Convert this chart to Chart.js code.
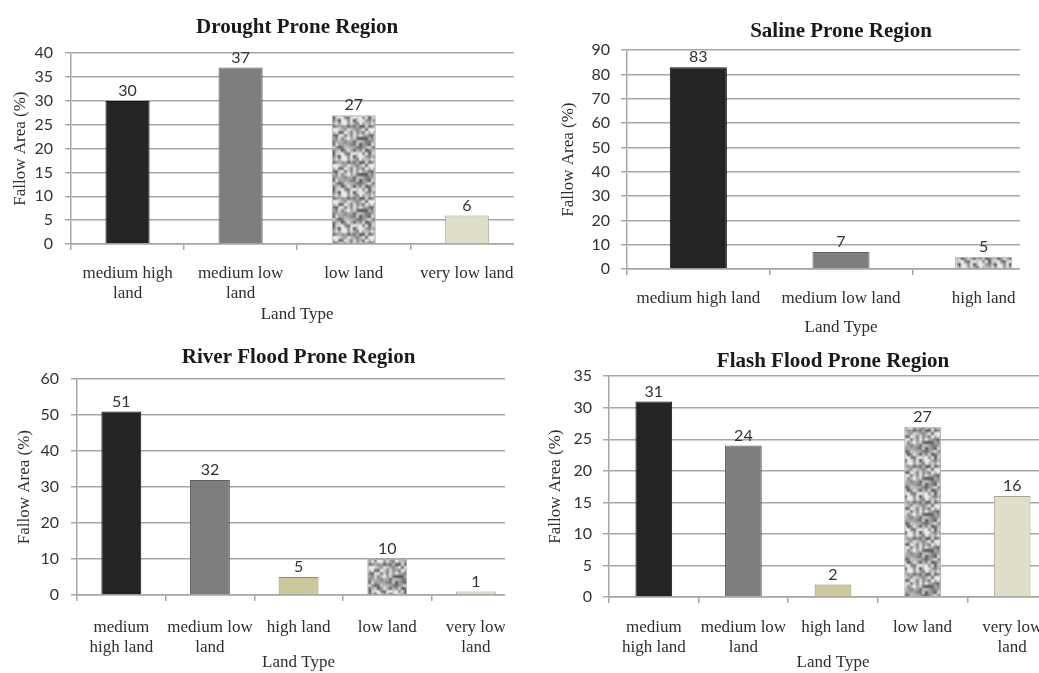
<!DOCTYPE html>
<html>
<head>
<meta charset="utf-8">
<script src="https://cdn.jsdelivr.net/npm/chart.js@4.4.1/dist/chart.umd.min.js"></script>
<style>
  html, body { margin: 0; padding: 0; background: #fff; width: 1039px; height: 673px; overflow: hidden; position: relative; }
  .box { position: absolute; overflow: hidden; }
  .box canvas { position: absolute; left: 0; top: 0; }
</style>
</head>
<body>
<div class="box" id="box1"><canvas id="drought"></canvas></div>
<div class="box" id="box2"><canvas id="saline"></canvas></div>
<div class="box" id="box3"><canvas id="river"></canvas></div>
<div class="box" id="box4"><canvas id="flash"></canvas></div>
<script>
// data
const droughtLabels = [['medium high', 'land'], ['medium low', 'land'], 'low land', 'very low land'];
const droughtValues = [30, 37, 27, 6];

const salineLabels = ['medium high land', 'medium low land', 'high land'];
const salineValues = [83, 7, 5];

const riverLabels = [['medium', 'high land'], ['medium low', 'land'], 'high land', 'low land', ['very low', 'land']];
const riverValues = [51, 32, 5, 10, 1];

const flashLabels = [['medium', 'high land'], ['medium low', 'land'], 'high land', 'low land', ['very low', 'land']];
const flashValues = [31, 24, 2, 27, 16];

const yMaxes = [40, 90, 60, 35];
const ySteps = [5, 10, 10, 5];

const serif = "'Liberation Serif', 'Times New Roman', serif";
const sans = "Lato, 'Liberation Sans', sans-serif";
const gridColor = '#a6a6a6';

// mottled grey fill for the "low land" style bars (tileable value noise)
function makeSpeckle() {
  const size = 36, cell = 3, n = size / cell;
  let s = 11;
  const next = () => (s = (s * 16807) % 2147483647) / 2147483647;
  const lattice = [];
  for (let i = 0; i < n * n; i++) lattice.push(next());
  const at = (i, j) => lattice[((j + n) % n) * n + ((i + n) % n)];
  const c = document.createElement('canvas');
  c.width = size; c.height = size;
  const g = c.getContext('2d');
  const img = g.createImageData(size, size);
  for (let y = 0; y < size; y++) {
    for (let x = 0; x < size; x++) {
      const fx = x / cell, fy = y / cell;
      const i = Math.floor(fx), j = Math.floor(fy);
      const tx = fx - i, ty = fy - j;
      const a = at(i, j) * (1 - tx) + at(i + 1, j) * tx;
      const b = at(i, j + 1) * (1 - tx) + at(i + 1, j + 1) * tx;
      const v = a * (1 - ty) + b * ty;
      const shade = Math.max(85, Math.min(235, Math.round(85 + v * 165)));
      const k = (y * size + x) * 4;
      img.data[k] = img.data[k + 1] = img.data[k + 2] = shade;
      img.data[k + 3] = 255;
    }
  }
  g.putImageData(img, 0, 0);
  return g.createPattern(c, 'repeat');
}
const speckle = makeSpeckle();

const fills = {
  dark: ['#262324', '#141212'],
  grey: ['#7f7d7e', '#626062'],
  khaki: ['#cdc99e', '#8e8b6a'],
  beige: ['#dfdec9', '#a3a39a'],
  speckle: [speckle, '#b0b0b0']
};

// numbers printed above each bar
const valueLabels = {
  id: 'valueLabels',
  afterDatasetsDraw(chart) {
    const ctx = chart.ctx;
    const ds = chart.data.datasets[0];
    ctx.save();
    ctx.font = '16px ' + sans;
    ctx.fillStyle = '#333';
    ctx.textAlign = 'center';
    ctx.textBaseline = 'middle';
    chart.getDatasetMeta(0).data.forEach((bar, i) => {
      ctx.fillText(ds.data[i], bar.x, bar.y - 10);
    });
    ctx.restore();
  }
};

function buildChart(id, boxId, title, labels, values, styles, g) {
  const box = document.getElementById(boxId);
  box.style.left = g.left + 'px';
  box.style.top = g.top + 'px';
  box.style.width = g.clip + 'px';
  box.style.height = g.h + 'px';
  const canvas = document.getElementById(id);
  canvas.width = g.w;
  canvas.height = g.h;

  return new Chart(canvas, {
    type: 'bar',
    data: {
      labels: labels,
      datasets: [{
        data: values,
        backgroundColor: styles.map(k => fills[k][0]),
        borderColor: styles.map(k => fills[k][1]),
        borderWidth: 1,
        barPercentage: 1,
        categoryPercentage: g.bar
      }]
    },
    options: {
      responsive: false,
      animation: false,
      devicePixelRatio: 1,
      layout: { padding: 0 },
      plugins: {
        legend: { display: false },
        tooltip: { enabled: false },
        title: {
          display: true,
          text: title,
          fullSize: false,
          color: '#1a1a1a',
          font: { family: serif, size: 21, weight: 'bold', lineHeight: 1.2 },
          padding: { top: g.tTop, bottom: g.tBottom }
        }
      },
      scales: {
        x: {
          grid: { display: true, drawOnChartArea: false, drawTicks: true, tickLength: 6, color: gridColor, lineWidth: 1.5 },
          border: { display: true, color: gridColor, width: 1.5 },
          ticks: { color: '#2e2e2e', padding: g.xPad, maxRotation: 0, autoSkip: false, font: { family: serif, size: 17, lineHeight: 1.2 } },
          title: { display: true, text: 'Land Type', color: '#2e2e2e', padding: 0, font: { family: serif, size: 17, lineHeight: 1.2 } },
          afterFit: s => { s.height = g.xH; }
        },
        y: {
          min: 0,
          max: g.max,
          grid: { color: gridColor, lineWidth: 1.5, tickLength: 6 },
          border: { display: true, color: gridColor, width: 1.5 },
          ticks: { stepSize: g.step, color: '#333', padding: g.yPad, font: { family: sans, size: 16 } },
          title: { display: true, text: 'Fallow Area (%)', color: '#2e2e2e', padding: { top: g.yTitle, bottom: 0 }, font: { family: serif, size: 17, lineHeight: 1.2 } },
          afterFit: s => { s.width = g.yW; }
        }
      }
    },
    plugins: [valueLabels]
  });
}

buildChart('drought', 'box1', 'Drought Prone Region', droughtLabels, droughtValues,
  ['dark', 'grey', 'speckle', 'beige'],
  { left: 0, top: 0, w: 527, h: 325, clip: 514, yW: 71, xH: 81, tTop: 15, tBottom: 13, yTitle: 10, yPad: 12, xPad: 13, bar: 0.39, max: yMaxes[0], step: ySteps[0] });

buildChart('saline', 'box2', 'Saline Prone Region', salineLabels, salineValues,
  ['dark', 'grey', 'speckle'],
  { left: 548, top: 0, w: 507, h: 338, clip: 472, yW: 79, xH: 69, tTop: 19, tBottom: 6, yTitle: 10, yPad: 11, xPad: 13, bar: 0.4, max: yMaxes[1], step: ySteps[1] });

buildChart('river', 'box3', 'River Flood Prone Region', riverLabels, riverValues,
  ['dark', 'grey', 'khaki', 'speckle', 'beige'],
  { left: 0, top: 330, w: 522, h: 343, clip: 505, yW: 77, xH: 78, tTop: 14.5, tBottom: 9.5, yTitle: 14, yPad: 12, xPad: 16, bar: 0.45, max: yMaxes[2], step: ySteps[2] });

buildChart('flash', 'box4', 'Flash Flood Prone Region', flashLabels, flashValues,
  ['dark', 'grey', 'khaki', 'speckle', 'beige'],
  { left: 530, top: 340, w: 527, h: 333, clip: 509, yW: 79, xH: 76, tTop: 9, tBottom: 2, yTitle: 15, yPad: 11, xPad: 14, bar: 0.41, max: yMaxes[3], step: ySteps[3] });
</script>
</body>
</html>
